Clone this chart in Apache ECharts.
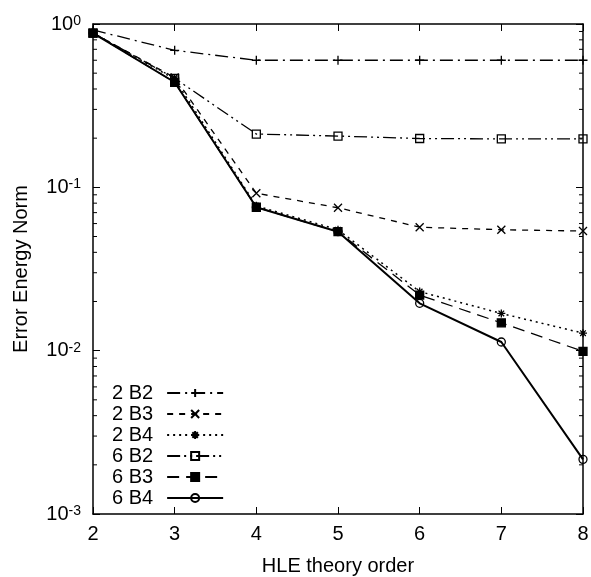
<!DOCTYPE html>
<html>
<head>
<meta charset="utf-8">
<script src="https://cdn.jsdelivr.net/npm/echarts@6/dist/echarts.min.js"></script>
<style>
html,body{margin:0;padding:0;background:#fff;}
#c{width:591px;height:577px;}
</style>
</head>
<body>
<div id="c"></div>
<script>
// ---- data ----
var orders = [2, 3, 4, 5, 6, 7, 8];
var seriesNames = ['2 B2', '2 B3', '2 B4', '6 B2', '6 B3', '6 B4'];
var v2B2 = [0.92, 0.69, 0.60, 0.60, 0.60, 0.60, 0.60];
var v2B3 = [0.88, 0.47, 0.092, 0.075, 0.057, 0.055, 0.054];
var v2B4 = [0.88, 0.46, 0.077, 0.055, 0.023, 0.0169, 0.0128];
var v6B2 = [0.88, 0.465, 0.212, 0.206, 0.199, 0.198, 0.198];
var v6B3 = [0.88, 0.44, 0.0755, 0.0535, 0.0219, 0.0148, 0.0099];
var v6B4 = [0.88, 0.44, 0.0755, 0.0535, 0.0195, 0.0113, 0.00216];
var minorTickValues = [];
[-3, -2, -1].forEach(function (e) {
  for (var k = 2; k <= 9; k++) minorTickValues.push(k * Math.pow(10, e));
});

var FONT = 'Liberation Sans, Arial, sans-serif';
var FS = 20;

function pairs(vals) {
  return orders.map(function (x, i) { return [x, vals[i]]; });
}

var SYM = {
  plus: 'path://M0,5L10,5M5,0L5,10',
  cross: 'path://M0,0L10,10M10,0L0,10',
  star: 'path://M0,5L10,5M5,0L5,10M1.5,1.5L8.5,8.5M8.5,1.5L1.5,8.5',
  square: 'path://M0,0L10,0L10,10L0,10Z',
  circle: 'path://M10,5A5,5 0 1 1 0,5A5,5 0 1 1 10,5Z'
};

function lineSeries(name, vals, sym, symSize, fill, dash, width) {
  return {
    name: name,
    type: 'line',
    data: pairs(vals),
    symbol: sym,
    symbolSize: symSize,
    showAllSymbol: true,
    color: '#000',
    lineStyle: { color: '#000', width: width, type: dash },
    itemStyle: { color: fill, borderColor: '#000', borderWidth: 1.3 },
    emphasis: { disabled: true },
    animation: false,
    z: 3
  };
}

var chart = echarts.init(document.getElementById('c'), null, { renderer: 'canvas' });

var supLabel = {
  fontFamily: FONT,
  color: '#000',
  formatter: function (v) {
    var e = Math.round(Math.log10(v));
    return '{b|10}{s|' + e + '}';
  },
  rich: {
    b: { fontSize: FS, fontFamily: FONT, color: '#000', verticalAlign: 'bottom', lineHeight: 20, padding: [6, 0, 0, 0] },
    s: { fontSize: 14, fontFamily: FONT, color: '#000', verticalAlign: 'top', lineHeight: 17, padding: [0, 0, 5, 0] }
  }
};

var option = {
  backgroundColor: '#fff',
  animation: false,
  grid: { left: 93, right: 8, top: 24, bottom: 63, containLabel: false, outerBoundsMode: 'none' },
  xAxis: [{
    type: 'value', min: 2, max: 8, interval: 1, position: 'bottom',
    name: 'HLE theory order', nameLocation: 'middle', nameGap: 42,
    nameTextStyle: { fontSize: FS, fontFamily: FONT, color: '#000' },
    axisLine: { show: true, lineStyle: { color: '#000', width: 1.5 } },
    axisTick: { show: true, inside: true, length: 7, lineStyle: { color: '#000', width: 1 } },
    axisLabel: { fontSize: FS, fontFamily: FONT, color: '#000', margin: 10 },
    splitLine: { show: false }
  }, {
    type: 'value', min: 2, max: 8, interval: 1, position: 'top',
    axisLine: { show: true, lineStyle: { color: '#000', width: 1.5 } },
    axisTick: { show: true, inside: true, length: 7, lineStyle: { color: '#000', width: 1 } },
    axisLabel: { show: false },
    splitLine: { show: false }
  }],
  yAxis: [{
    type: 'log', logBase: 10, min: 0.001, max: 1, position: 'left',
    name: 'Error Energy Norm', nameLocation: 'middle', nameGap: 62,
    nameTextStyle: { fontSize: FS, fontFamily: FONT, color: '#000' },
    axisLine: { show: true, lineStyle: { color: '#000', width: 1.5 } },
    axisTick: { show: true, inside: true, length: 7, lineStyle: { color: '#000', width: 1 } },
    axisLabel: Object.assign({ margin: 12 }, supLabel),
    splitLine: { show: false }
  }, {
    type: 'log', logBase: 10, min: 0.001, max: 1, position: 'right',
    axisLine: { show: true, lineStyle: { color: '#000', width: 1.5 } },
    axisTick: { show: true, inside: true, length: 7, lineStyle: { color: '#000', width: 1 } },
    axisLabel: { show: false },
    splitLine: { show: false }
  }],
  legend: {
    data: seriesNames,
    orient: 'vertical',
    left: 112,
    top: 383,
    padding: 0,
    align: 'right',
    itemWidth: 56,
    itemHeight: 10,
    itemGap: 1,
    selectedMode: false,
    textStyle: { fontSize: FS, fontFamily: FONT, color: '#000', lineHeight: 18, padding: [0, 9, 0, 0] }
  },
  series: [
    lineSeries('2 B2', v2B2, SYM.plus, 9, '#000', [13, 5, 2, 5], 1.3),
    lineSeries('2 B3', v2B3, SYM.cross, 8, '#000', [6, 6], 1.3),
    lineSeries('2 B4', v2B4, SYM.star, 8, '#000', [2, 4], 1.5),
    lineSeries('6 B2', v6B2, SYM.square, 8, 'none', [13, 4, 2, 4, 2, 4], 1.3),
    lineSeries('6 B3', v6B3, 'rect', 8, '#000', [12, 7], 1.3),
    lineSeries('6 B4', v6B4, SYM.circle, 8, 'none', 'solid', 2),
    {
      name: 'minorTicks',
      type: 'custom',
      silent: true,
      animation: false,
      data: minorTickValues.map(function (v) { return [2, v]; }),
      renderItem: function (params, api) {
        var v = api.value(1);
        var pl = api.coord([2, v]);
        var pr = api.coord([8, v]);
        return {
          type: 'group',
          children: [
            { type: 'line', shape: { x1: pl[0], y1: pl[1], x2: pl[0] + 4, y2: pl[1] }, style: { stroke: '#000', lineWidth: 1 } },
            { type: 'line', shape: { x1: pr[0] - 4, y1: pr[1], x2: pr[0], y2: pr[1] }, style: { stroke: '#000', lineWidth: 1 } }
          ]
        };
      },
      z: 2
    }
  ]
};
chart.setOption(option);
</script>
</body>
</html>
